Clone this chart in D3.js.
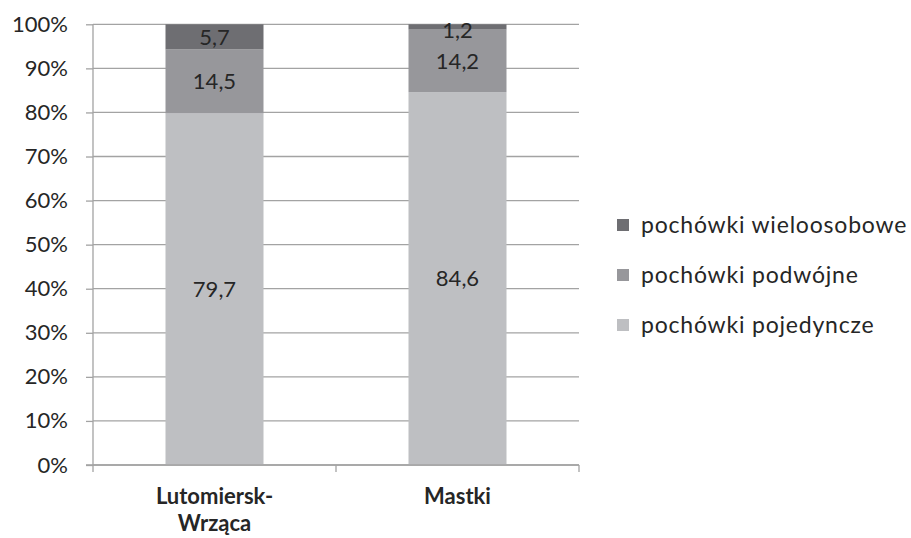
<!DOCTYPE html>
<html><head><meta charset="utf-8">
<script src="https://cdn.jsdelivr.net/npm/d3@7"></script>
<style>body{margin:0;background:#fff}svg{display:block}text{font-family:Lato,"Open Sans",sans-serif;fill:#262626}</style>
</head><body><svg id="c" width="911" height="538"></svg>
<script>
const categories = ["Lutomiersk-\nWrząca", "Mastki"];
const seriesNames = ["pochówki pojedyncze", "pochówki podwójne", "pochówki wieloosobowe"];
const pojedyncze = [79.7, 84.6];
const podwojne = [14.5, 14.2];
const wieloosobowe = [5.7, 1.2];
const yTicks = [0,0.1,0.2,0.3,0.4,0.5,0.6,0.7,0.8,0.9,1];
const colors = ["#bebfc2", "#97979b", "#6e6e72"];

const rows = categories.map((c,i)=>({cat:c, "pochówki pojedyncze":pojedyncze[i], "pochówki podwójne":podwojne[i], "pochówki wieloosobowe":wieloosobowe[i]}));
const stacked = d3.stack().keys(seriesNames).offset(d3.stackOffsetExpand)(rows);

const svg = d3.select("#c");
const L=93, R=579, T=24.3, B=465;
const x = d3.scaleBand().domain(categories).range([L,R]);
const y = d3.scaleLinear().domain([0,1]).range([B,T]);
const barW = 98;

// gridlines
svg.append("g").selectAll("line").data(yTicks).join("line")
  .attr("x1",L).attr("x2",R).attr("y1",d=>y(d)).attr("y2",d=>y(d))
  .attr("stroke","#a3a3a3").attr("stroke-width",1.3);

// y axis
const ya = svg.append("g").attr("transform",`translate(${L},0)`)
  .call(d3.axisLeft(y).tickValues(yTicks).tickFormat(d3.format(".0%")).tickSize(7).tickPadding(18));
ya.select(".domain").attr("stroke","#a3a3a3").attr("stroke-width",1.3).attr("d",`M-7,${y(0)}H0V${y(1)}`);
ya.selectAll(".tick line").attr("stroke","#a3a3a3").attr("stroke-width",1.3);
ya.selectAll(".tick text").attr("font-size",22).attr("fill","#262626").style("font-family","Lato");

// bars
const g = svg.append("g");
stacked.forEach((s,si)=>{
  g.selectAll(null).data(s).join("rect")
    .attr("x",d=>x(d.data.cat)+x.bandwidth()/2-barW/2)
    .attr("width",barW)
    .attr("y",d=>y(d[1]))
    .attr("height",d=>y(d[0])-y(d[1]))
    .attr("fill",colors[si]);
});
// x axis
const xa = svg.append("g").attr("transform",`translate(0,${B})`);
xa.append("line").attr("x1",L).attr("x2",R).attr("stroke","#a3a3a3").attr("stroke-width",1.3);
const xt = [L, (L+R)/2, R];
xa.selectAll(".t").data(xt).join("line").attr("x1",d=>d).attr("x2",d=>d).attr("y1",0).attr("y2",7)
  .attr("stroke","#a3a3a3").attr("stroke-width",1.3);

// value labels
const vals = [pojedyncze, podwojne, wieloosobowe];
stacked.forEach((s,si)=>{
  g.selectAll(null).data(s).join("text")
    .attr("x",d=>x(d.data.cat)+x.bandwidth()/2)
    .attr("y",(d,i)=>Math.max((y(d[0])+y(d[1]))/2, 30))
    .attr("dy","0.35em")
    .attr("text-anchor","middle").attr("font-size",22)
    .text((d,i)=>String(vals[si][i]).replace(".",","));
});

// category labels
categories.forEach(c=>{
  const lines = c.split("\n");
  const t = svg.append("text").attr("text-anchor","middle").attr("font-size",22).attr("font-weight","bold")
    .attr("x",x(c)+x.bandwidth()/2).attr("y",504);
  lines.forEach((ln,i)=>t.append("tspan").attr("x",x(c)+x.bandwidth()/2).attr("dy",i?27:0).text(ln));
});

// legend
const legItems = seriesNames.slice().reverse();
const legColors = colors.slice().reverse();
legItems.forEach((n,i)=>{
  const cy = 225 + i*50;
  svg.append("rect").attr("x",617).attr("y",cy-6).attr("width",12).attr("height",12).attr("fill",legColors[i]);
  svg.append("text").attr("x",641).attr("y",cy).attr("dy","0.35em").attr("font-size",23).attr("letter-spacing",0.8).text(n);
});
</script></body></html>
